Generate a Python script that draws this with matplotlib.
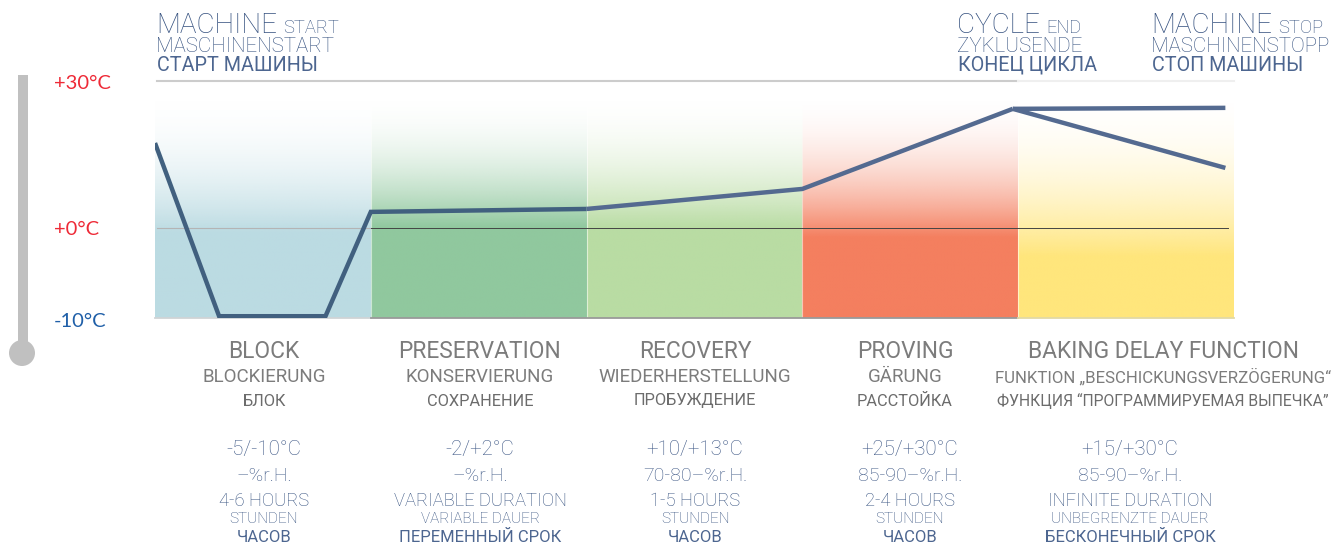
import numpy as np
import matplotlib
matplotlib.use("Agg")
import matplotlib.pyplot as plt
from matplotlib.colors import to_rgb
from matplotlib.patches import Circle, Rectangle
from matplotlib.transforms import ScaledTranslation

W, H = 1340, 544
DARK = "#4d6690"
MID = "#34507f"
LIGHT = "#3d5785"
GREY = "#7c7c7c"

phase_edges = [0, 1, 2, 3, 4, 5]
phase_colors = ["#BBDBE2", "#90C89E", "#B9DCA3", "#F47F5F", "#FFE67C"]
phase_full_y = [0.36, 0.38, 0.38, 0.34, 0.26]

line_x = [0.0, 0.297, 0.79, 1.0, 2.0, 3.0, 3.975]
line_y = [17.5, -9.8, -9.8, 3.4, 4.0, 8.1, 24.5]
stop_x = [3.975, 4.96]
stop_hold_y = [24.5, 24.7]
stop_cool_y = [24.5, 12.4]

temp_ticks = [-10, 0, 30]
temp_labels = ["-10°C", "+0°C", "+30°C"]

names_en = ["BLOCK", "PRESERVATION", "RECOVERY", "PROVING", "BAKING DELAY FUNCTION"]
names_de = ["BLOCKIERUNG", "KONSERVIERUNG", "WIEDERHERSTELLUNG", "GÄRUNG",
            "FUNKTION „BESCHICKUNGSVERZÖGERUNG“"]
names_ru = ["БЛОК", "СОХРАНЕНИЕ", "ПРОБУЖДЕНИЕ", "РАССТОЙКА",
            "ФУНКЦИЯ “ПРОГРАММИРУЕМАЯ ВЫПЕЧКА”"]
temps = ["-5/-10°C", "-2/+2°C", "+10/+13°C", "+25/+30°C", "+15/+30°C"]
humidity = ["–%r.H.", "–%r.H.", "70-80–%r.H.", "85-90–%r.H.", "85-90–%r.H."]
dur_en = ["4-6 HOURS", "VARIABLE DURATION", "1-5 HOURS", "2-4 HOURS", "INFINITE DURATION"]
dur_de = ["STUNDEN", "VARIABLE DAUER", "STUNDEN", "STUNDEN", "UNBEGRENZTE DAUER"]
dur_ru = ["ЧАСОВ", "ПЕРЕМЕННЫЙ СРОК", "ЧАСОВ", "ЧАСОВ", "БЕСКОНЕЧНЫЙ СРОК"]
name_centers = [264, 480, 695, 905, 1163]
value_centers = [264, 480, 695, 910, 1130]
de_sizes = [13.5, 13.5, 13.5, 13.5, 12.1]
ru_sizes = [11.8, 11.8, 11.8, 11.8, 11.3]

headers = [
    (157, "MACHINE", "START", "MASCHINENSTART", "СТАРТ МАШИНЫ"),
    (958, "CYCLE", "END", "ZYKLUSENDE", "КОНЕЦ ЦИКЛА"),
    (1152, "MACHINE", "STOP", "MASCHINENSTOPP", "СТОП МАШИНЫ"),
]

FUT = ["Roboto", "Noto Sans", "DejaVu Sans"]
DIN = ["Roboto", "Noto Sans", "DejaVu Sans"]
CYR = ["Roboto", "Noto Sans", "DejaVu Sans"]

fig = plt.figure(figsize=(W / 100, H / 100), dpi=100, facecolor="white")
L, R, T, B = 155, 1234, 81, 318
rect = [L / W, 1 - B / H, (R - L) / W, (B - T) / H]

bg = fig.add_axes(rect, zorder=0)
bg.axis("off")
for i, col in enumerate(phase_colors):
    t = np.linspace(1, 0, 256)
    start, end = 0.95, phase_full_y[i]
    a = np.clip((start - t) / (start - end), 0, 1) ** 2.0
    img = np.ones((256, 1, 4))
    img[..., :3] = to_rgb(col)
    img[..., 3] = a[:, None]
    bg.imshow(img, extent=(phase_edges[i], phase_edges[i + 1], 0, 1),
              aspect="auto", interpolation="bilinear", origin="upper")
bg.set_xlim(0, 5)
bg.set_ylim(0, 1)


def fwd(v):
    v = np.asarray(v, dtype=float)
    return np.where(v < 0, v * 8.95, v * 4.883)


def inv(p):
    p = np.asarray(p, dtype=float)
    return np.where(p < 0, p / 8.95, p / 4.883)


ax = fig.add_axes(rect, zorder=1)
ax.patch.set_alpha(0)
ax.set_yscale("function", functions=(fwd, inv))
ax.set_xlim(0, 5)
ax.set_ylim(-10, 30.2)
for s in ax.spines.values():
    s.set_visible(False)
ax.set_xticks([])
ax.set_yticks(temp_ticks)
ax.set_yticklabels(temp_labels)
ax.minorticks_off()
ax.tick_params(axis="y", length=0, pad=(L - 54) * 0.72)
for lab, c in zip(ax.get_yticklabels(), ["#1f5fa8", "#ee2a37", "#ee2a37"]):
    lab.set_ha("left")
    lab.set_color(c)
    lab.set_fontsize(14.5)
    lab.set_family(["Lato", "DejaVu Sans"])
ax.get_yticklabels()[0].set_transform(
    ax.get_yticklabels()[0].get_transform() + ScaledTranslation(0, -2 / 100, fig.dpi_scale_trans))

for e in phase_edges[1:5]:
    ax.axvline(e, color="white", lw=0.8, alpha=0.55, zorder=2)

ax.plot([0.01, 1], [0, 0], color="#b4b4b4", lw=0.8, zorder=2)
ax.plot([1, 4.97], [0, 0], color="#444444", lw=0.7, zorder=2)
ax.plot([0.01, 4], [30.2, 30.2], color="#cccccc", lw=1.5, clip_on=False, zorder=2)
ax.plot([4, 5], [30.2, 30.2], color="#efefef", lw=1.5, clip_on=False, zorder=2)
ax.plot([0, 1], [-10, -10], color="#d0d4d6", lw=1.3, clip_on=False, zorder=2)
ax.plot([1, 4], [-10, -10], color="#9a9a9a", lw=1.3, clip_on=False, zorder=2)
ax.plot([4, 5], [-10, -10], color="#e2d9a6", lw=1.3, clip_on=False, zorder=2)

ax.plot(line_x[:5], line_y[:5], color="#41607f", lw=3.2, solid_joinstyle="miter",
        solid_capstyle="butt", zorder=4)
ax.plot(line_x[4:], line_y[4:], color="#546A90", lw=3.2, solid_joinstyle="miter",
        solid_capstyle="butt", zorder=4)
ax.plot(stop_x, stop_hold_y, color="#546A90", lw=3.2, solid_capstyle="butt", zorder=4)
ax.plot(stop_x, stop_cool_y, color="#546A90", lw=3.2, solid_capstyle="butt", zorder=4)

over = fig.add_axes([0, 0, 1, 1], zorder=2)
over.set_xlim(0, W)
over.set_ylim(H, 0)
over.axis("off")
over.patch.set_alpha(0)

# thermometer
over.add_patch(Rectangle((18, 75), 10, 278, color="#c0c0c0", lw=0))
over.add_patch(Circle((22, 353), 13, color="#c0c0c0", lw=0))


def txt(x, y, s, size, color, fam=FUT, weight="light", ha="center", va="center"):
    over.text(x, y, s, fontsize=size, color=color, family=fam, fontweight=weight,
              ha=ha, va=va)


for x0, big, small, de, ru in headers:
    t = over.text(x0 - 1, 33, big, fontsize=20, color=MID, family=FUT, fontweight="light",
                  ha="left", va="baseline")
    fig.canvas.draw()
    bb = t.get_window_extent()
    over.text(bb.x1 + 6, 33, small, fontsize=13.2, color=MID, family=FUT, fontweight="light",
              ha="left", va="baseline")
    over.text(x0 - 1, 52.5, de, fontsize=14.8, color=MID, family=FUT, fontweight="light",
              ha="left", va="baseline")
    over.text(x0, 71, ru, fontsize=14.2, color=DARK, family=CYR,
              ha="left", va="baseline")

for i, cx in enumerate(name_centers):
    vx = value_centers[i]
    txt(cx, 352, names_en[i], 16.4, GREY, DIN, "normal")
    txt(cx, 377, names_de[i], de_sizes[i], GREY, DIN, "normal")
    txt(cx, 401, names_ru[i], ru_sizes[i], "#6c6c6c", DIN, "normal")
    txt(vx, 450, temps[i], 14.8, LIGHT)
    txt(vx, 476, humidity[i], 14, LIGHT)
    txt(vx, 501.5, dur_en[i], 13.2, MID)
    txt(vx, 519, dur_de[i], 11, MID)
    txt(vx, 537, dur_ru[i], 12, DARK, CYR, "normal")

fig.savefig("out.png", dpi=100)
